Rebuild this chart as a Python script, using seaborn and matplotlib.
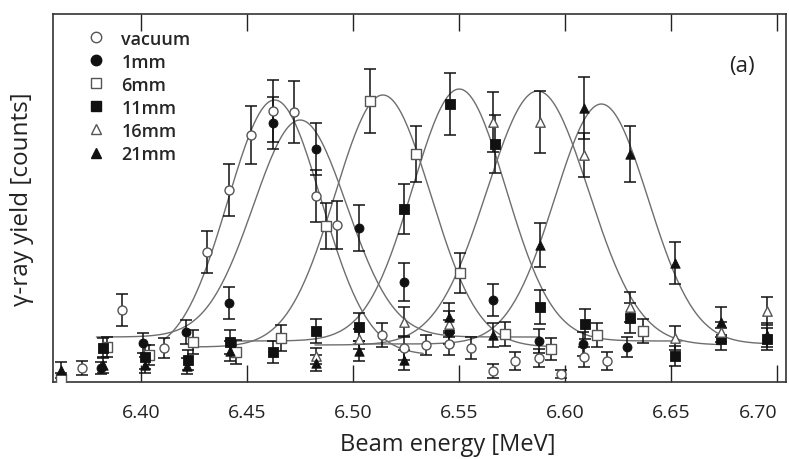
import numpy as np
import pandas as pd
import seaborn as sns
import matplotlib.pyplot as plt
from matplotlib.lines import Line2D

# measured yields (arbitrary counts), one set of arrays per target thickness
vac_x = [6.372, 6.391, 6.411, 6.431, 6.4415, 6.452, 6.462, 6.472, 6.4825, 6.4925, 6.5135,
         6.524, 6.5345, 6.545, 6.5555, 6.566, 6.5765, 6.5875, 6.598, 6.609, 6.6197]
vac_y = [14, 72, 34, 130, 192, 247, 271, 270, 186, 157, 47, 34, 37, 38, 34, 11, 21, 24, 8, 25, 21]
vac_err = [7, 16, 10, 21, 26, 29, 31, 31, 26, 24, 12, 12, 10, 11, 11, 7, 9, 9, 4, 10, 9]

mm1_x = [6.381, 6.401, 6.421, 6.4415, 6.462, 6.4825, 6.503, 6.524, 6.545, 6.566, 6.5875, 6.6085, 6.629]
mm1_y = [14, 39, 50, 79, 259, 233, 154, 100, 50, 82, 41, 38, 35]
mm1_err = [6, 10, 12, 16, 26, 26, 23, 19, 12, 16, 12, 12, 10]

mm6_x = [6.3625, 6.384, 6.404, 6.4245, 6.445, 6.466, 6.487, 6.508, 6.5295, 6.5506, 6.5718,
         6.5934, 6.615, 6.6366]
mm6_y = [3, 35, 27, 40, 30, 44, 156, 281, 228, 109, 48, 33, 47, 51]
mm6_err = [6, 10, 10, 12, 12, 13, 23, 32, 28, 20, 12, 11, 12, 12]

mm11_x = [6.382, 6.402, 6.422, 6.442, 6.462, 6.4825, 6.503, 6.524, 6.5455, 6.5667, 6.588,
          6.6094, 6.6306, 6.6517, 6.6735, 6.695]
mm11_y = [34, 25, 22, 40, 30, 51, 55, 173, 278, 238, 75, 58, 64, 26, 43, 43]
mm11_err = [10, 12, 10, 12, 11, 12, 14, 25, 31, 29, 17, 15, 15, 10, 11, 11]

mm16_x = [6.4825, 6.503, 6.524, 6.545, 6.566, 6.588, 6.609, 6.6306, 6.6517, 6.6735, 6.695]
mm16_y = [26, 43, 60, 58, 260, 260, 227, 75, 44, 50, 71]
mm16_err = [8, 10, 15, 13, 30, 31, 22, 15, 12, 10, 14]

mm21_x = [6.3625, 6.382, 6.402, 6.4215, 6.442, 6.4825, 6.503, 6.524, 6.545, 6.566, 6.588,
          6.609, 6.6306, 6.6517, 6.6735, 6.695]
mm21_y = [12, 17, 17, 16, 31, 19, 31, 22, 65, 47, 137, 274, 228, 119, 60, 47]
mm21_err = [8, 8, 8, 8, 10, 8, 10, 10, 14, 12, 22, 31, 28, 21, 15, 12]

# gaussian + flat background fits
labels = ['vacuum', '1mm', '6mm', '11mm', '16mm', '21mm']
fit_center = [6.463, 6.475, 6.514, 6.550, 6.587, 6.617]
fit_amp = [255, 217, 252, 252, 254, 240]
fit_sigma = [0.022, 0.022, 0.0225, 0.022, 0.024, 0.022]
fit_base = [27, 45, 35, 41, 37, 38]
fit_lo = [6.411, 6.379, 6.4245, 6.445, 6.482, 6.50]
fit_hi = [6.533, 6.588, 6.594, 6.655, 6.673, 6.695]

tick_vals = [6.40, 6.45, 6.50, 6.55, 6.60, 6.65, 6.70]
tick_labels = ['6.40', '6.45', '6.50', '6.55', '6.60', '6.65', '6.70']

series = [
    (vac_x, vac_y, vac_err, 'o', False),
    (mm1_x, mm1_y, mm1_err, 'o', True),
    (mm6_x, mm6_y, mm6_err, 's', False),
    (mm11_x, mm11_y, mm11_err, 's', True),
    (mm16_x, mm16_y, mm16_err, '^', False),
    (mm21_x, mm21_y, mm21_err, '^', True),
]

sns.set_style('white')
plt.rcParams['font.family'] = ['Open Sans', 'DejaVu Sans']

fig = plt.figure(figsize=(7.89, 4.60), dpi=100)
ax = fig.add_axes([0.0668, 0.1674, 0.9296, 0.8000])

# fit curves
rows = []
for i, lab in enumerate(labels):
    xs = np.linspace(fit_lo[i], fit_hi[i], 200)
    ys = fit_base[i] + fit_amp[i] * np.exp(-0.5 * ((xs - fit_center[i]) / fit_sigma[i]) ** 2)
    rows.append(pd.DataFrame({'x': xs, 'y': ys, 'series': lab}))
curves = pd.concat(rows, ignore_index=True)
sns.lineplot(data=curves, x='x', y='y', units='series', estimator=None,
             color='#6e6e6e', linewidth=1.0, ax=ax, zorder=1)

# data points with error bars
for (xs, ys, es, mk, filled), lab in zip(series, labels):
    ax.errorbar(xs, ys, yerr=es, fmt='none', ecolor='#111111', elinewidth=1.1,
                capsize=4, capthick=1.1, zorder=2)
    df = pd.DataFrame({'x': xs, 'y': ys})
    sz = 42 if mk != '^' else 46
    if filled:
        sns.scatterplot(data=df, x='x', y='y', marker=mk, s=sz, color='#111111',
                        edgecolor='#111111', linewidth=0.6, ax=ax, zorder=3)
    else:
        sns.scatterplot(data=df, x='x', y='y', marker=mk, s=sz, color='white',
                        edgecolor='#555555', linewidth=1.0, ax=ax, zorder=3)

ax.set_xlim(6.3584, 6.7041)
ax.set_ylim(0, 368)
ax.set_xticks(tick_vals)
ax.set_xticklabels(tick_labels)
ax.set_yticks([])
ax.tick_params(axis='x', direction='in', length=12, width=1.0, top=True, bottom=True,
               labelsize=14, pad=15, colors='#222222')
ax.get_xticklabels()[-1].set_horizontalalignment('right')
for sp in ax.spines.values():
    sp.set_color('#333333')
    sp.set_linewidth(1.2)

ax.set_xlabel('Beam energy [MeV]', fontsize=17, color='#222222')
ax.xaxis.set_label_coords(0.539, -0.135)
ax.set_ylabel('γ-ray yield [counts]', fontsize=17.5, color='#222222')
ax.yaxis.set_label_coords(-0.026, 0.5)

ax.text(0.940, 0.86, '(a)', transform=ax.transAxes, fontsize=16, ha='center',
        va='center', color='#222222')

handles = []
for (xs, ys, es, mk, filled), lab in zip(series, labels):
    handles.append(Line2D([], [], linestyle='none', marker=mk, markersize=7.5,
                          markerfacecolor='#111111' if filled else 'white',
                          markeredgecolor='#111111' if filled else '#555555',
                          markeredgewidth=1.0))
ax.legend(handles, labels, loc='upper left', bbox_to_anchor=(0.027, 0.997), frameon=False,
          prop={'size': 13, 'weight': 'semibold'}, handlelength=1.0, handletextpad=0.9,
          labelspacing=0.28, borderpad=0.3)

fig.savefig('out.png', dpi=100)
